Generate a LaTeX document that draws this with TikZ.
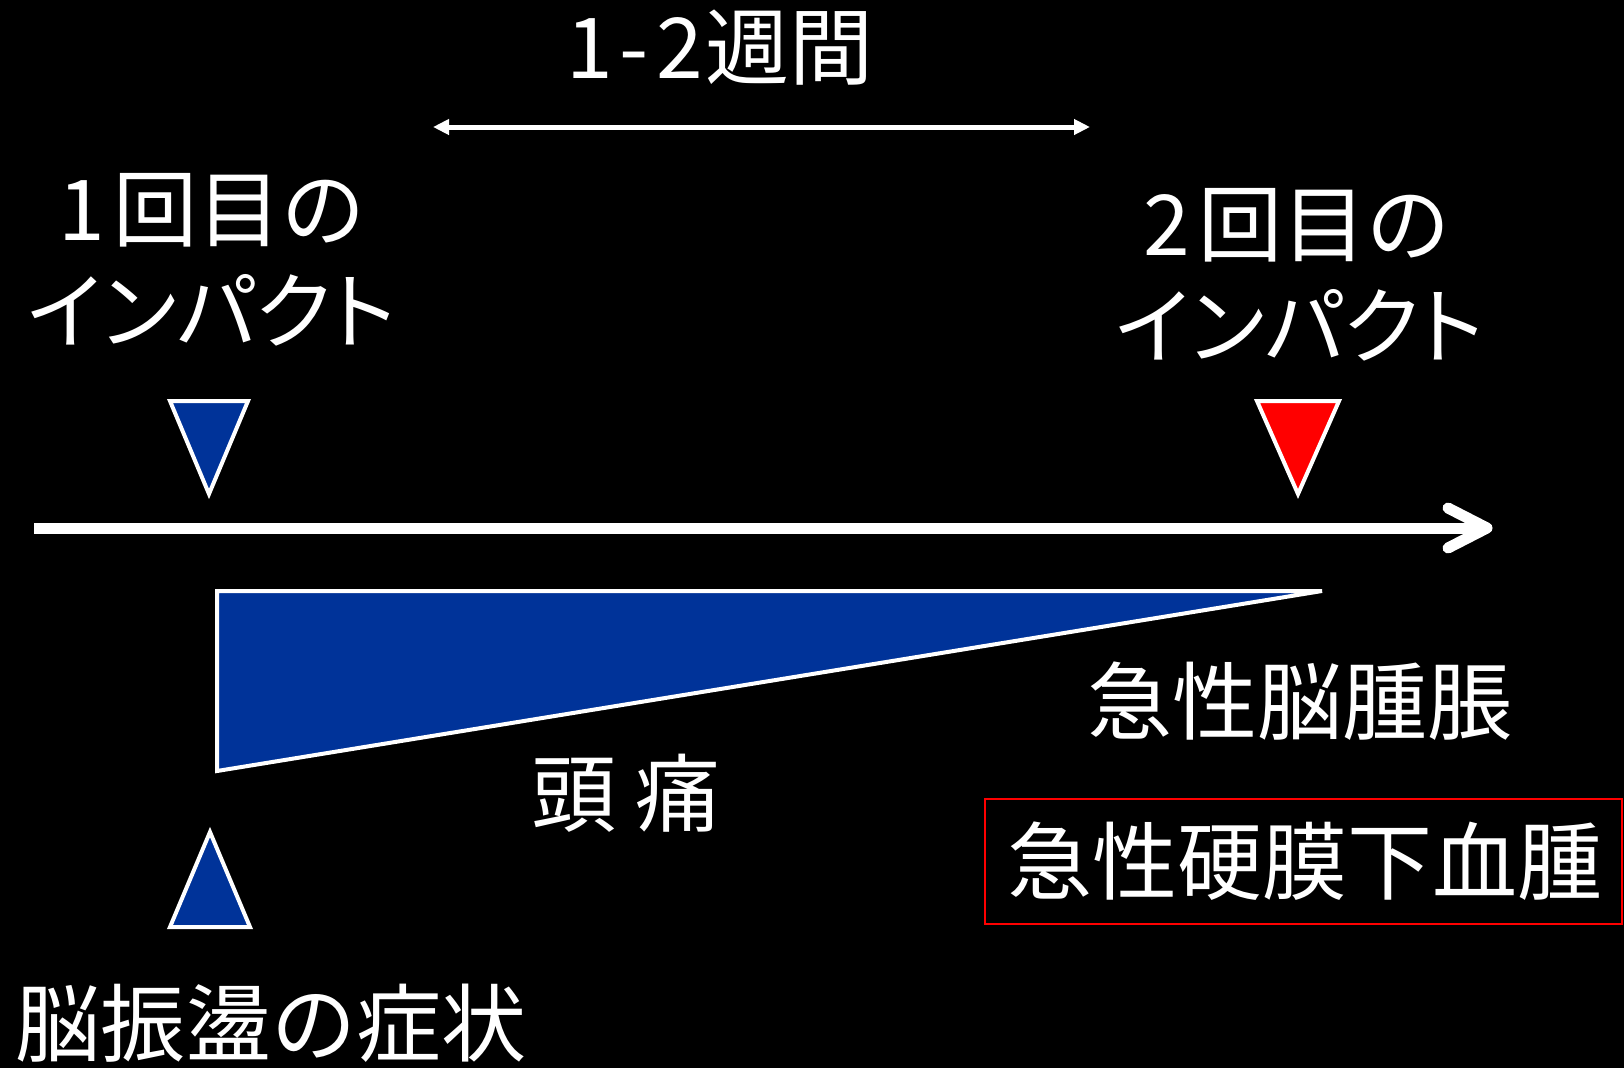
\documentclass[tikz,border=0pt]{standalone}
\usepackage{fontspec}
\newfontfamily\jp{Noto Sans CJK JP}
\newfontfamily\jpp[RawFeature=+palt]{Noto Sans CJK JP}
\usetikzlibrary{arrows.meta}
\definecolor{dblue}{RGB}{0,51,153}
\definecolor{pred}{RGB}{255,0,0}
\tikzset{
  lbl/.style={text=white,inner sep=0pt,anchor=center,font=\jp\fontsize{84}{88}\selectfont},
  lblp/.style={text=white,inner sep=0pt,anchor=center,font=\jpp\fontsize{84}{88}\selectfont},
  lblbig/.style={text=white,inner sep=0pt,anchor=center,font=\jp\fontsize{85}{90}\selectfont},
  tri/.style={draw=white,line width=4pt,line join=miter},
  axis/.style={white,line width=11pt},
  chev/.style={white,line width=11pt,line cap=round,line join=round},
  span/.style={white,line width=5pt,{Triangle[length=16pt,width=15pt]}-{Triangle[length=16pt,width=15pt]}}
}
\begin{document}
\begin{tikzpicture}[x=1pt,y=-1pt]
\fill[black] (0,0) rectangle (1624,1068);
\useasboundingbox (0,0) rectangle (1624,1068);

% period arrow
\node[lbl] (period) at (720,48) {1\kern7pt-\kern7pt2\kern3pt週間};
\coordinate (pl) at (433,127);
\coordinate (pr) at (1090,127);
\draw[span] (pl) -- (pr);

% impact labels
\node[lbl] (imp1a) at (212,210) {1\kern8pt回目の};
\node[lblp] (imp1b) at (212,310) {インパクト};
\node[lbl] (imp2a) at (1297,225) {2\kern8pt回目の};
\node[lblp] (imp2b) at (1300,325) {インパクト};

% impact triangles
\fill[dblue] (170,401) -- (248,401) -- (209,494) -- cycle;
\draw[tri] (170,401) -- (248,401) -- (209,494) -- cycle;
\fill[pred] (1257,401) -- (1339,401) -- (1298,494) -- cycle;
\draw[tri] (1257,401) -- (1339,401) -- (1298,494) -- cycle;

% time axis
\coordinate (ax0) at (34,528);
\coordinate (ax1) at (1484,528);
\coordinate (ch1) at (1448,508);
\coordinate (cht) at (1487,528);
\coordinate (ch2) at (1448,548);
\draw[axis] (ax0) -- (ax1);
\draw[chev] (ch1) -- (cht) -- (ch2);

% wedge
\fill[dblue] (217,591) -- (1322,591) -- (217,771) -- cycle;
\draw[white,line width=4pt,line join=miter] (217,591) -- (1322,591) -- (217,771) -- cycle;

% labels
\node[lblbig] (headache) at (626,793) {頭 痛};
\node[lblbig] (swell) at (1300,701) {急性脳腫脹};
\node[lblbig] (sdh) at (1305,861) {急性硬膜下血腫};
\draw[pred,line width=2pt] (985,799) rectangle (1622,924);

% concussion
\fill[dblue] (170,927) -- (250,927) -- (210,832) -- cycle;
\draw[tri] (170,927) -- (250,927) -- (210,832) -- cycle;
\node[lblbig] (conc) at (271,1023) {脳振盪の症状};
\end{tikzpicture}
\end{document}
